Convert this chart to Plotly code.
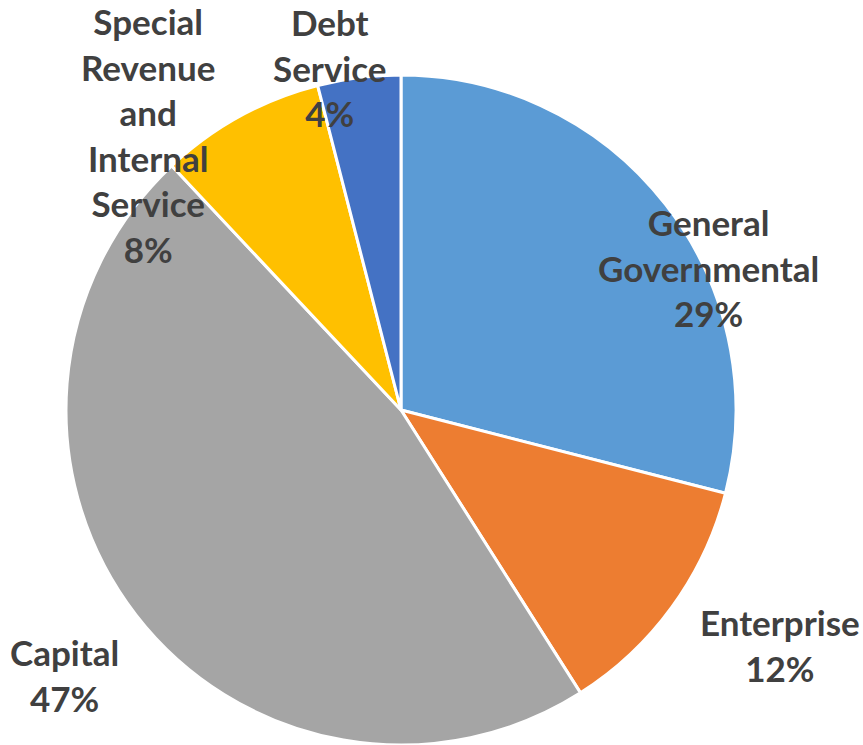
import plotly.graph_objects as go

# Fund categories and their share of the total (percent)
categories = [
    "General Governmental",
    "Enterprise",
    "Capital",
    "Special Revenue and Internal Service",
    "Debt Service",
]
shares = [29, 12, 47, 8, 4]

# Multi-line label text for each category
label_lines = {
    "General Governmental": ["General", "Governmental"],
    "Enterprise": ["Enterprise"],
    "Capital": ["Capital"],
    "Special Revenue and Internal Service": ["Special", "Revenue", "and", "Internal", "Service"],
    "Debt Service": ["Debt", "Service"],
}

slice_colors = ["#5B9BD5", "#ED7D31", "#A5A5A5", "#FFC000", "#4472C4"]

W, H = 863, 745
cx, cy, r = 401, 410, 335

# Label centres in pixel coordinates (x from left, y from top)
label_pos = {
    "General Governmental": (708, 267),
    "Enterprise": (780, 645),
    "Capital": (64, 675),
    "Special Revenue and Internal Service": (148, 135),
    "Debt Service": (330, 67),
}

fig = go.Figure(
    go.Pie(
        labels=categories,
        values=shares,
        sort=False,
        direction="clockwise",
        rotation=0,
        textinfo="none",
        hoverinfo="label+percent",
        marker=dict(colors=slice_colors, line=dict(color="white", width=3)),
        domain=dict(
            x=[(cx - r) / W, (cx + r) / W],
            y=[(H - cy - r) / H, (H - cy + r) / H],
        ),
        showlegend=False,
    )
)

total = sum(shares)
for cat, val in zip(categories, shares):
    px, py = label_pos[cat]
    text = "<br>".join(label_lines[cat] + [f"{round(100 * val / total)}%"])
    fig.add_annotation(
        x=px / W,
        y=1 - py / H,
        xref="paper",
        yref="paper",
        xanchor="center",
        yanchor="middle",
        text=text,
        showarrow=False,
        align="center",
        font=dict(family="Lato", size=35, color="#404040", weight="bold"),
    )

fig.update_layout(
    width=W,
    height=H,
    margin=dict(l=0, r=0, t=0, b=0),
    paper_bgcolor="white",
    plot_bgcolor="white",
)

fig.write_html("out.html")
